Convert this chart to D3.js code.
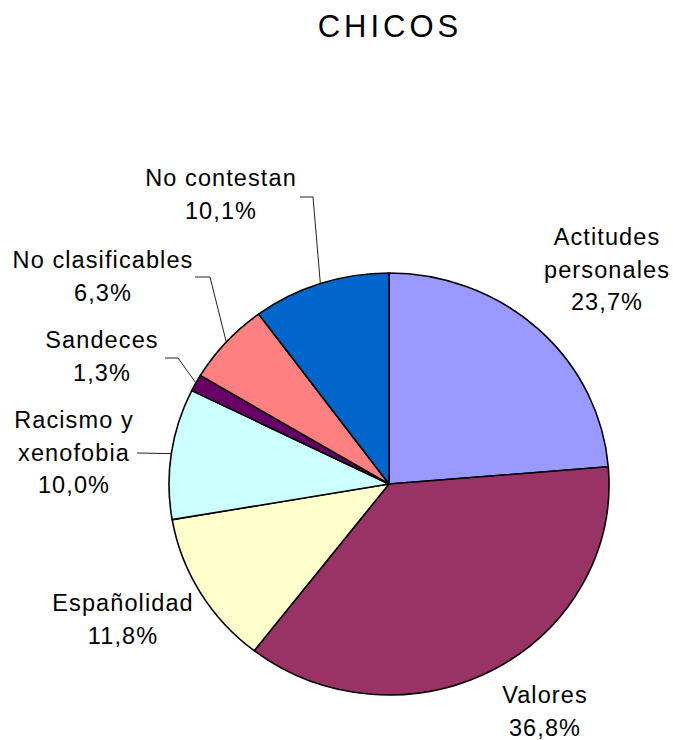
<!DOCTYPE html>
<html>
<head>
<meta charset="utf-8">
<script src="https://cdn.jsdelivr.net/npm/d3@7"></script>
<style>
  body { margin: 0; background: #fff; }
  text { font-family: "Liberation Sans", Arial, sans-serif; fill: #000; }
</style>
</head>
<body>
<svg id="chart" width="673" height="740"></svg>
<script>
// data
var categories = ["Actitudes personales", "Valores", "Españolidad", "Racismo y xenofobia", "Sandeces", "No clasificables", "No contestan"]
var values = [23.7, 36.8, 11.8, 10.0, 1.3, 6.3, 10.1]
var colors = ["#9999FF", "#993366", "#FFFFCC", "#CCFFFF", "#660066", "#FF8080", "#0066CC"]

// label layout (lines, centre x, first baseline, leader elbow)
var labelLines = [["Actitudes", "personales"], ["Valores"], ["Españolidad"], ["Racismo y", "xenofobia"], ["Sandeces"], ["No clasificables"], ["No contestan"]]
var labelX = [607, 545, 123, 74, 102, 103, 221]
var labelY = [245, 703, 611, 428, 348, 268, 186]
var leaders = [null, null, null, [[137, 453]], [[165, 358], [178, 358]], [[195, 277], [210, 277]], [[300, 197], [313, 197]]]

var cx = 389, cy = 484, rx = 220, ry = 211
var svg = d3.select("#chart")

svg.append("text")
  .attr("x", 390).attr("y", 37)
  .attr("text-anchor", "middle")
  .attr("font-size", "31px")
  .attr("letter-spacing", "4px")
  .text("CHICOS")

var data = categories.map((c, i) => ({name: c, value: values[i], color: colors[i]}))

const pie = d3.pie().value(d => d.value).sort(null)
const arc = d3.arc().innerRadius(0).outerRadius(rx)
var slices = pie(data)

var g = svg.append("g")
  .attr("transform", `translate(${cx},${cy}) scale(1,${ry / rx})`)

g.selectAll("path")
  .data(slices)
  .enter().append("path")
    .attr("d", arc)
    .attr("fill", d => d.data.color)
    .attr("stroke", "#000")
    .attr("stroke-width", 1.6)
    .attr("stroke-linejoin", "round")

// leader lines
slices.forEach((s, i) => {
  if (!leaders[i]) return
  var a = (s.startAngle + s.endAngle) / 2
  var edge = [cx + rx * Math.sin(a), cy - ry * Math.cos(a)]
  var pts = leaders[i].concat([edge])
  svg.append("path")
    .attr("d", d3.line()(pts))
    .attr("fill", "none")
    .attr("stroke", "#222")
    .attr("stroke-width", 1)
})

// labels
slices.forEach((s, i) => {
  var lines = labelLines[i].concat([d3.format(".1f")(values[i]).replace(".", ",") + "%"])
  var t = svg.append("text")
    .attr("text-anchor", "middle")
    .attr("font-size", "23.5px")
    .attr("letter-spacing", "1.1px")
  lines.forEach((ln, k) => {
    t.append("tspan")
      .attr("x", labelX[i])
      .attr("y", labelY[i] + k * 32.5)
      .text(ln)
  })
})
</script>
</body>
</html>
